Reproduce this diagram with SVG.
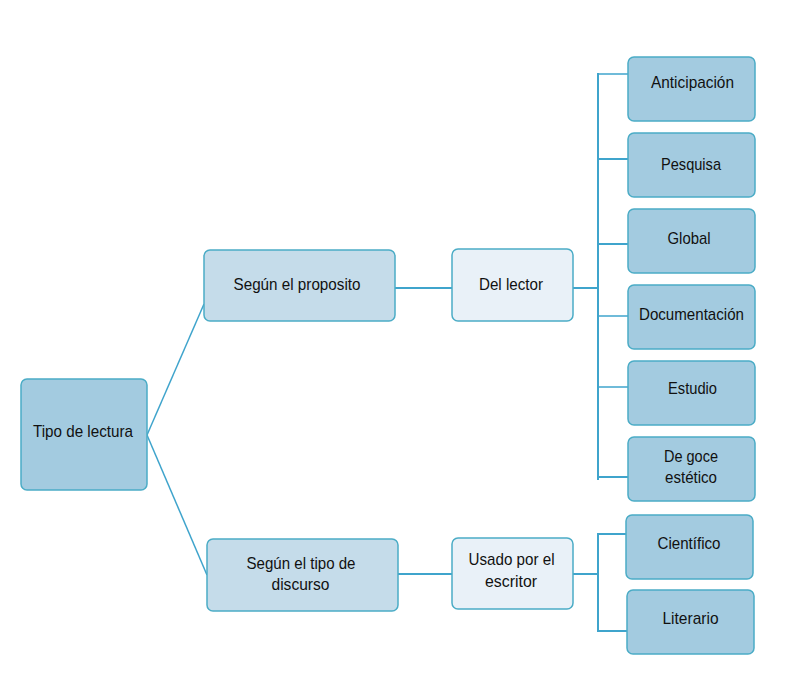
<svg xmlns="http://www.w3.org/2000/svg" width="798" height="689" viewBox="0 0 798 689">
<style>
.box{stroke:#4BACC6;stroke-width:1.5}
.dark{fill:#A3CBE0}
.mid{fill:#C5DCEA}
.light{fill:#E9F1F8}
.conn{stroke:#3FA4CC;stroke-width:2;fill:none}
.thin{stroke:#3FA4CC;stroke-width:1.5;fill:none}
text{font-family:"Liberation Sans",Arial,sans-serif;font-size:17px;fill:#111;text-anchor:middle}
</style>
<rect width="798" height="689" fill="#fff"/>
<g id="connectors">
<line class="thin" x1="147" y1="435" x2="204" y2="304"/>
<line class="thin" x1="147" y1="435" x2="207" y2="575"/>
<line class="conn" x1="395" y1="288" x2="452" y2="288"/>
<line class="conn" x1="573" y1="288" x2="598" y2="288"/>
<line class="conn" x1="598" y1="73" x2="598" y2="480"/>
<line class="thin" x1="598" y1="74" x2="628" y2="74"/>
<line class="conn" x1="597" y1="159" x2="628" y2="159"/>
<line class="conn" x1="597" y1="244" x2="628" y2="244"/>
<line class="thin" x1="597" y1="316" x2="628" y2="316"/>
<line class="thin" x1="597" y1="387" x2="628" y2="387"/>
<line class="conn" x1="598" y1="477" x2="628" y2="477"/>
<line class="conn" x1="398" y1="574" x2="452" y2="574"/>
<line class="conn" x1="573" y1="574" x2="598" y2="574"/>
<path class="conn" d="M626 534 H598 V631 H627"/>
</g>
<g id="tipo"><rect class="box dark" x="21" y="379" width="126" height="111" rx="6"/><text x="83" y="437" textLength="100" lengthAdjust="spacingAndGlyphs">Tipo de lectura</text></g>
<g id="proposito"><rect class="box mid" x="204" y="250" width="191" height="71" rx="6"/><text x="297" y="290" textLength="127" lengthAdjust="spacingAndGlyphs">Según el proposito</text></g>
<g id="discurso"><rect class="box mid" x="207" y="539" width="191" height="72" rx="6"/><text x="301" y="569" textLength="109" lengthAdjust="spacingAndGlyphs">Según el tipo de</text><text x="300.5" y="590" textLength="58" lengthAdjust="spacingAndGlyphs">discurso</text></g>
<g id="lector"><rect class="box light" x="452" y="249" width="121" height="72" rx="6"/><text x="511" y="290" textLength="64" lengthAdjust="spacingAndGlyphs">Del lector</text></g>
<g id="escritor"><rect class="box light" x="452" y="538" width="121" height="71" rx="6"/><text x="511.5" y="565" textLength="86" lengthAdjust="spacingAndGlyphs">Usado por el</text><text x="511" y="587" textLength="52" lengthAdjust="spacingAndGlyphs">escritor</text></g>
<g id="anticipacion"><rect class="box dark" x="628" y="57" width="127" height="64" rx="6"/><text x="692.5" y="88" textLength="83" lengthAdjust="spacingAndGlyphs">Anticipación</text></g>
<g id="pesquisa"><rect class="box dark" x="628" y="133" width="127" height="64" rx="6"/><text x="691" y="170" textLength="60" lengthAdjust="spacingAndGlyphs">Pesquisa</text></g>
<g id="global"><rect class="box dark" x="628" y="209" width="127" height="64" rx="6"/><text x="689" y="244" textLength="43" lengthAdjust="spacingAndGlyphs">Global</text></g>
<g id="documentacion"><rect class="box dark" x="628" y="285" width="127" height="64" rx="6"/><text x="691.5" y="320" textLength="105" lengthAdjust="spacingAndGlyphs">Documentación</text></g>
<g id="estudio"><rect class="box dark" x="628" y="361" width="127" height="64" rx="6"/><text x="692.5" y="394" textLength="49" lengthAdjust="spacingAndGlyphs">Estudio</text></g>
<g id="goce"><rect class="box dark" x="628" y="437" width="127" height="64" rx="6"/><text x="691" y="462" textLength="54" lengthAdjust="spacingAndGlyphs">De goce</text><text x="691" y="483" textLength="52" lengthAdjust="spacingAndGlyphs">estético</text></g>
<g id="cientifico"><rect class="box dark" x="626" y="515" width="127" height="64" rx="6"/><text x="689" y="549" textLength="63" lengthAdjust="spacingAndGlyphs">Científico</text></g>
<g id="literario"><rect class="box dark" x="627" y="590" width="127" height="64" rx="6"/><text x="690.5" y="624" textLength="56" lengthAdjust="spacingAndGlyphs">Literario</text></g>
</svg>
